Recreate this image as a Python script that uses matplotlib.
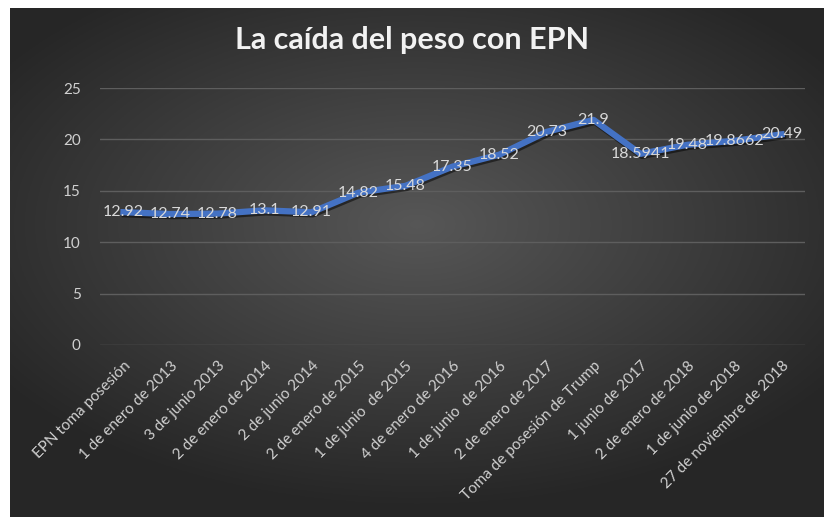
import numpy as np
import matplotlib
matplotlib.use("Agg")
import matplotlib.pyplot as plt
import matplotlib.patheffects as pe

categories = [
    "EPN toma posesión", "1 de enero de 2013", "3 de junio 2013",
    "2 de enero de 2014", "2 de junio 2014", "2 de enero de 2015",
    "1 de junio  de 2015", "4 de enero de 2016", "1 de junio  de 2016",
    "2 de enero de 2017", "Toma de posesión de Trump", "1 junio de 2017",
    "2 de enero de 2018", "1 de junio de 2018", "27 de noviembre de 2018",
]
values = [12.92, 12.74, 12.78, 13.1, 12.91, 14.82, 15.48, 17.35, 18.52,
          20.73, 21.9, 18.5941, 19.48, 19.8662, 20.49]
labels = ["12.92", "12.74", "12.78", "13.1", "12.91", "14.82", "15.48",
          "17.35", "18.52", "20.73", "21.9", "18.5941", "19.48", "19.8662",
          "20.49"]
yticks = [0, 5, 10, 15, 20, 25]

plt.rcParams['font.family'] = ['Lato', 'DejaVu Sans']

fig = plt.figure(figsize=(8.24, 5.17), dpi=100)
fig.patch.set_facecolor("white")

# dark radial-gradient background
bg = fig.add_axes([10 / 824, 0, 814 / 824, 509 / 517])
yy, xx = np.mgrid[-1:1:300j, -1:1:400j]
r = np.sqrt((xx * 0.9) ** 2 + ((yy + 0.15) * 1.0) ** 2)
shade = np.clip(0.34 - 0.17 * r, 0.15, 0.34)
bg.imshow(np.dstack([shade] * 3), aspect="auto", extent=[0, 1, 0, 1])
bg.set_axis_off()

ax = fig.add_axes([100 / 824, 1 - 345 / 517, 705 / 824, 257 / 517])
ax.set_facecolor("none")
x = np.arange(len(values))
ax.plot(x, values, color="#4472C4", lw=4.5, solid_joinstyle="round",
        path_effects=[pe.SimpleLineShadow(offset=(1, -1.5), alpha=0.5),
                      pe.Normal()], zorder=3)
for xi, v, t in zip(x, values, labels):
    ax.text(xi, v, t, ha="center", va="center", color="#d9d9d9",
            fontsize=11.5, zorder=4)

ax.set_xlim(-0.5, len(values) - 0.5)
ax.set_ylim(0, 25)
ax.set_yticks(yticks)
ax.grid(axis="y", color="#5e5e5e", lw=1)
ax.set_axisbelow(True)
ax.set_xticks(x)
ax.set_xticklabels(categories, rotation=45, ha="right", rotation_mode="anchor",
                   fontsize=11, color="#d0d0d0")
ax.tick_params(axis="y", colors="#d0d0d0", labelsize=11, length=0, pad=14)
ax.tick_params(axis="x", length=0, pad=10)
for s in ax.spines.values():
    s.set_visible(False)

fig.text(0.5, 1 - 40 / 517, "La caída del peso con EPN", ha="center",
         va="center", color="#f2f2f2", fontsize=22, fontweight="bold")

fig.savefig("out.png", dpi=100)
